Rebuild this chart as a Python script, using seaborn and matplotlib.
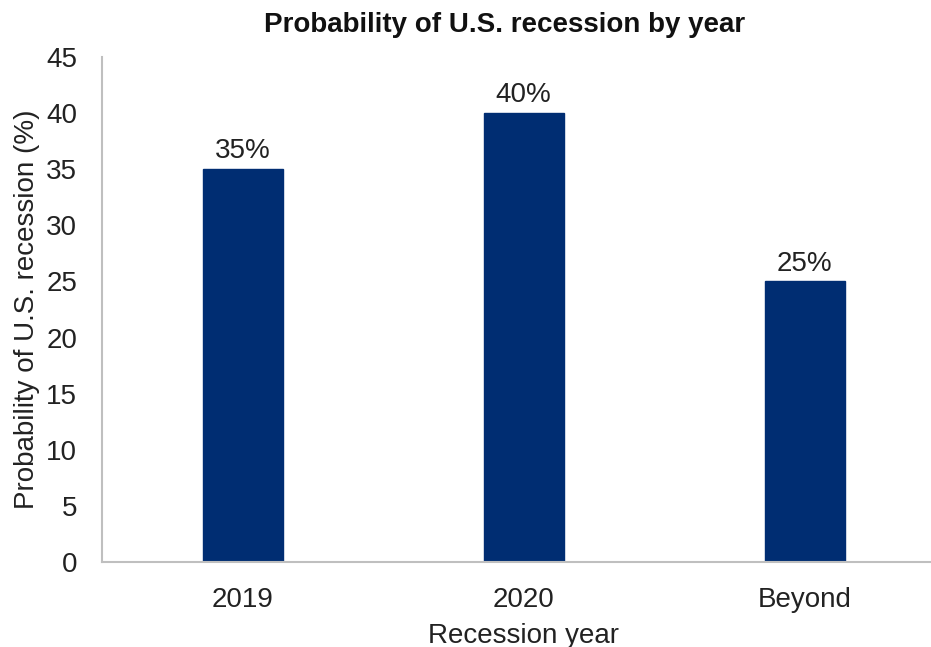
import matplotlib
matplotlib.use("Agg")
import matplotlib.pyplot as plt
import seaborn as sns
import pandas as pd

categories = ["2019", "2020", "Beyond"]
values = [35, 40, 25]
labels = ["35%", "40%", "25%"]

sns.set_theme(style="white")
plt.rcParams['font.family'] = ['Liberation Sans', 'DejaVu Sans']

df = pd.DataFrame({"year": categories, "prob": values})

fig = plt.figure(figsize=(9.31, 6.47), dpi=100)
ax = fig.add_axes([102/931, 1-562/647, (945.5-102)/931, 505/647])
sns.barplot(data=df, x="year", y="prob", color="#002D72", width=0.284,
            saturation=1, ax=ax, edgecolor="#002D72")
ax.set_ylim(0, 45)
ax.set_yticks(range(0, 46, 5))
for c in ax.containers:
    ax.bar_label(c, labels=labels, padding=3.5, fontsize=20, color="#222222")
ax.tick_params(axis='both', labelsize=20, colors="#222222", length=0)
ax.tick_params(axis='x', pad=18)
ax.tick_params(axis='y', pad=18)
for s in ["top", "right"]:
    ax.spines[s].set_visible(False)
for s in ["left", "bottom"]:
    ax.spines[s].set_color("#BFBFBF")
    ax.spines[s].set_linewidth(1.5)
ax.set_xlabel("Recession year", fontsize=20, color="#222222", labelpad=7)
ax.set_ylabel("Probability of U.S. recession (%)", fontsize=20, color="#222222", labelpad=4)
fig.text(505/931, 1-25/647, "Probability of U.S. recession by year", ha="center", va="center",
         fontsize=20, fontweight="bold", color="#111111")
fig.savefig("out.png", dpi=100)
